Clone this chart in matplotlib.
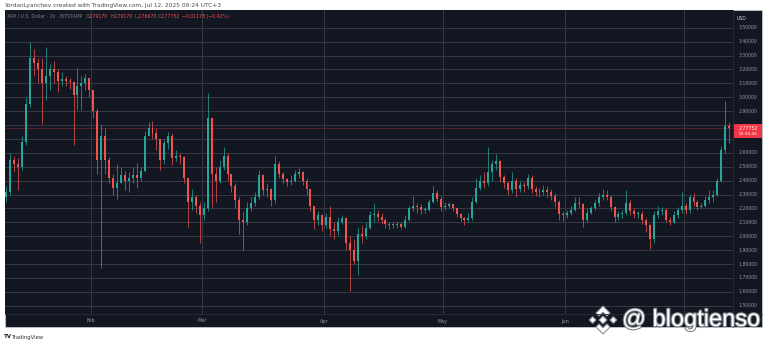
import numpy as np
import pandas as pd
import matplotlib
matplotlib.use("Agg")
import matplotlib.pyplot as plt
import matplotlib.dates as mdates
from matplotlib.patches import Rectangle, Polygon
from matplotlib.transforms import blended_transform_factory
import matplotlib.patheffects as pe

# ---------------- data (daily OHLC, XRP/USD) ----------------
start_date = "2025-01-10"
first_open = 2.28

close_jan = [2.32, 2.55, 2.52, 2.50, 2.68, 2.95, 3.28, 3.25, 3.20, 3.10, 3.15, 3.20, 3.18, 3.12, 3.13, 3.12, 3.11, 3.02, 3.08, 3.10, 3.14, 3.05]
high_jan = [2.36, 2.60, 2.58, 2.56, 2.72, 3.00, 3.40, 3.35, 3.28, 3.28, 3.36, 3.24, 3.26, 3.20, 3.18, 3.15, 3.14, 3.12, 3.21, 3.15, 3.17, 3.12]
low_jan = [2.25, 2.30, 2.46, 2.33, 2.48, 2.66, 2.93, 3.15, 3.10, 2.81, 2.98, 3.05, 3.10, 3.04, 3.08, 3.08, 3.06, 2.66, 2.91, 2.91, 3.05, 3.00]

close_feb = [2.90, 2.55, 2.72, 2.55, 2.42, 2.35, 2.38, 2.44, 2.40, 2.42, 2.44, 2.42, 2.47, 2.72, 2.78, 2.74, 2.70, 2.55, 2.67, 2.72, 2.56, 2.58, 2.57, 2.42, 2.25, 2.28, 2.22, 2.15]
high_feb = [3.05, 2.92, 2.80, 2.78, 2.57, 2.45, 2.52, 2.50, 2.47, 2.46, 2.50, 2.53, 2.50, 2.76, 2.82, 2.83, 2.78, 2.70, 2.70, 2.75, 2.74, 2.62, 2.60, 2.58, 2.42, 2.34, 2.30, 2.25]
low_feb = [2.85, 2.45, 1.77, 2.45, 2.38, 2.30, 2.27, 2.38, 2.33, 2.32, 2.38, 2.35, 2.40, 2.46, 2.72, 2.70, 2.62, 2.48, 2.52, 2.63, 2.51, 2.54, 2.52, 2.38, 2.07, 2.19, 2.17, 1.95]

close_mar = [2.20, 2.85, 2.45, 2.40, 2.50, 2.58, 2.45, 2.36, 2.26, 2.12, 2.10, 2.20, 2.24, 2.28, 2.44, 2.33, 2.34, 2.26, 2.52, 2.45, 2.41, 2.39, 2.40, 2.45, 2.46, 2.40, 2.34, 2.22, 2.12, 2.15, 2.08]
high_mar = [2.25, 3.03, 2.85, 2.50, 2.55, 2.64, 2.60, 2.45, 2.38, 2.28, 2.18, 2.25, 2.28, 2.32, 2.48, 2.45, 2.38, 2.35, 2.58, 2.54, 2.46, 2.42, 2.44, 2.48, 2.49, 2.47, 2.42, 2.34, 2.22, 2.18, 2.16]
low_mar = [2.12, 2.18, 2.21, 2.25, 2.38, 2.48, 2.40, 2.32, 2.20, 2.02, 1.90, 2.08, 2.18, 2.22, 2.27, 2.30, 2.28, 2.22, 2.24, 2.42, 2.38, 2.36, 2.37, 2.39, 2.42, 2.37, 2.30, 2.18, 2.05, 2.08, 2.04]

close_apr = [2.14, 2.05, 2.04, 2.10, 2.13, 1.95, 1.90, 1.82, 2.02, 2.00, 2.06, 2.15, 2.16, 2.14, 2.12, 2.09, 2.08, 2.08, 2.09, 2.07, 2.12, 2.20, 2.22, 2.21, 2.19, 2.19, 2.25, 2.31, 2.27, 2.21]
high_apr = [2.17, 2.22, 2.10, 2.14, 2.15, 2.14, 2.00, 1.98, 2.07, 2.08, 2.10, 2.18, 2.24, 2.19, 2.17, 2.13, 2.10, 2.10, 2.11, 2.10, 2.15, 2.22, 2.29, 2.24, 2.23, 2.21, 2.27, 2.36, 2.33, 2.29]
low_apr = [2.06, 2.00, 1.98, 2.01, 2.09, 1.90, 1.61, 1.80, 1.72, 1.95, 1.98, 2.05, 2.10, 2.11, 2.09, 2.06, 2.05, 2.06, 2.06, 2.05, 2.06, 2.11, 2.18, 2.17, 2.16, 2.17, 2.18, 2.24, 2.25, 2.18]

close_may = [2.22, 2.23, 2.20, 2.16, 2.13, 2.12, 2.13, 2.25, 2.35, 2.40, 2.38, 2.46, 2.52, 2.54, 2.43, 2.38, 2.33, 2.40, 2.34, 2.37, 2.36, 2.42, 2.34, 2.32, 2.32, 2.33, 2.32, 2.29, 2.25, 2.16, 2.15]
high_may = [2.25, 2.25, 2.23, 2.21, 2.17, 2.14, 2.17, 2.28, 2.42, 2.44, 2.46, 2.64, 2.55, 2.59, 2.55, 2.44, 2.40, 2.46, 2.42, 2.40, 2.39, 2.45, 2.44, 2.36, 2.35, 2.37, 2.36, 2.34, 2.31, 2.26, 2.18]
low_may = [2.19, 2.20, 2.18, 2.14, 2.11, 2.08, 2.10, 2.12, 2.24, 2.33, 2.35, 2.36, 2.40, 2.48, 2.39, 2.35, 2.30, 2.31, 2.28, 2.32, 2.32, 2.34, 2.31, 2.29, 2.28, 2.30, 2.28, 2.26, 2.21, 2.12, 2.11]

close_jun = [2.17, 2.19, 2.24, 2.23, 2.12, 2.17, 2.20, 2.24, 2.28, 2.30, 2.28, 2.21, 2.14, 2.16, 2.17, 2.24, 2.18, 2.16, 2.16, 2.12, 2.08, 1.98, 2.15, 2.18, 2.19, 2.12, 2.10, 2.15, 2.19, 2.22]
high_jun = [2.19, 2.22, 2.28, 2.28, 2.24, 2.20, 2.22, 2.26, 2.31, 2.34, 2.33, 2.30, 2.22, 2.18, 2.19, 2.33, 2.26, 2.20, 2.18, 2.18, 2.13, 2.09, 2.18, 2.22, 2.21, 2.20, 2.14, 2.18, 2.21, 2.32]
low_jun = [2.13, 2.15, 2.18, 2.20, 2.07, 2.10, 2.16, 2.19, 2.22, 2.26, 2.26, 2.18, 2.10, 2.12, 2.13, 2.15, 2.15, 2.13, 2.13, 2.09, 2.03, 1.91, 1.95, 2.13, 2.15, 2.10, 2.08, 2.09, 2.13, 2.17]

close_jul = [2.19, 2.28, 2.25, 2.21, 2.22, 2.26, 2.28, 2.30, 2.40, 2.62, 2.79, 2.77752]
high_jul = [2.24, 2.30, 2.31, 2.26, 2.24, 2.29, 2.33, 2.33, 2.42, 2.65, 2.97, 2.82]
low_jul = [2.16, 2.17, 2.22, 2.19, 2.20, 2.21, 2.24, 2.25, 2.29, 2.39, 2.60, 2.67]

price_ticks = [1.5, 1.6, 1.7, 1.8, 1.9, 2.0, 2.1, 2.2, 2.3, 2.4, 2.5, 2.6, 2.7, 2.8, 2.9, 3.0, 3.1, 3.2, 3.3, 3.4, 3.5]
hidden_tick_labels = [2.7, 2.8]          # covered by the last-price tag
month_labels = ["Feb", "Mar", "Apr", "May", "Jun"]
month_dates = ["2025-02-01", "2025-03-01", "2025-04-01", "2025-05-01", "2025-06-01", "2025-07-01"]
last_price = 2.77752
countdown = "00:35:46"
legend_values = [("O", "2.79170"), ("H", "2.79170"), ("L", "2.76670"), ("C", "2.77752")]
legend_change = "\u22120.01178 (\u22120.42%)"

closes = np.array(close_jan + close_feb + close_mar + close_apr + close_may + close_jun + close_jul)
highs = np.array(high_jan + high_feb + high_mar + high_apr + high_may + high_jun + high_jul)
lows = np.array(low_jan + low_feb + low_mar + low_apr + low_may + low_jun + low_jul)
opens = np.concatenate([[first_open], closes[:-1]])
highs = np.maximum(highs, np.maximum(opens, closes))
lows = np.minimum(lows, np.minimum(opens, closes))
dates = pd.date_range(start_date, periods=len(closes), freq="D")
x = mdates.date2num(dates.to_pydatetime()) + 0.5

# ---------------- styling ----------------
W, H = 765, 342
BG = "#131722"
GRID = "#363a45"
UP = "#26a69a"
DOWN = "#ef5350"
AXTXT = "#9598a1"

fig = plt.figure(figsize=(W / 100, H / 100), dpi=100, facecolor="white")

def px_rect(x0, y0, x1, y1):
    return [x0 / W, 1 - y1 / H, (x1 - x0) / W, (y1 - y0) / H]

# background panel
bg = fig.add_axes([0, 0, 1, 1], zorder=0)
bg.set_xlim(0, W); bg.set_ylim(H, 0); bg.axis("off")
bg.add_patch(Rectangle((5, 10), 757, 317, facecolor=BG, edgecolor="#d0d3da", lw=0.5))

# main chart axes (pixel box: x 5..733, y 10..314)
ax = fig.add_axes(px_rect(5, 10, 733, 314), zorder=1)
ax.set_facecolor(BG)
x_left = mdates.date2num(pd.Timestamp("2025-01-10").to_pydatetime()) + 0.15
x_right = mdates.date2num(pd.Timestamp("2025-07-13").to_pydatetime()) + 0.5
ax.set_xlim(x_left, x_right)
ax.set_ylim(1.441, 3.628)
for s in ax.spines.values():
    s.set_visible(False)
ax.set_xticks([]); ax.set_yticks([])

for p in price_ticks:
    ax.axhline(p, color=GRID, lw=0.7, zorder=0)
mnums = [mdates.date2num(pd.Timestamp(d).to_pydatetime()) for d in month_dates]
for m in mnums:
    ax.axvline(m, color=GRID, lw=0.7, zorder=0)

# current price line
ax.axhline(last_price, color="#4d232b", lw=0.8, zorder=1)

colors = np.where(closes >= opens, UP, DOWN)
ax.vlines(x, lows, highs, colors=colors, lw=0.5, zorder=2)
body_bottom = np.minimum(opens, closes)
body_h = np.maximum(np.abs(closes - opens), 0.005)
ax.bar(x, body_h, bottom=body_bottom, width=0.5, color=colors, linewidth=0, zorder=3)

# overlay in pixel coordinates
ov = fig.add_axes([0, 0, 1, 1], zorder=5)
ov.set_xlim(0, W); ov.set_ylim(H, 0); ov.axis("off")
ov.patch.set_alpha(0)

# separators
ov.plot([733, 733], [10, 327], color="#2a2e39", lw=0.6)
ov.plot([5, 762], [314, 314], color="#2a2e39", lw=0.6)

# price axis labels
ty = blended_transform_factory(ov.transData, ax.transData)
for p in price_ticks:
    if any(abs(p - h) < 1e-9 for h in hidden_tick_labels):
        continue
    ov.text(748, p, f"{p:.5f}", transform=ty, ha="center", va="center",
            fontsize=3.3, color=AXTXT)
ov.text(742, 18.5, "USD", ha="center", va="center", fontsize=3.3, color="#d1d4dc")

# last price tag
ov.add_patch(Rectangle((734, 124), 28, 14, facecolor="#f23645", edgecolor="none"))
ov.text(748, 128.3, f"{last_price:.5f}", ha="center", va="center", fontsize=3.3, color="white")
ov.text(748, 134.0, countdown, ha="center", va="center", fontsize=3.1, color="white")

# month labels
tx = blended_transform_factory(ax.transData, ov.transData)
for m, lab in zip(mnums, month_labels):
    ov.text(m, 321, lab, transform=tx, ha="center", va="center", fontsize=3.5, color=AXTXT)

# legend line
ov.text(7, 16.5, "XRP / U.S. Dollar \u00b7 2h \u00b7 BITSTAMP", ha="left", va="center",
        fontsize=3.3, color="#787b86")
lx = [86, 111, 135, 158]
for (k, v), xx in zip(legend_values, lx):
    ov.text(xx, 16.5, k, ha="left", va="center", fontsize=3.3, color="#787b86")
    ov.text(xx + 2.6, 16.5, v, ha="left", va="center", fontsize=3.3, color=DOWN)
ov.text(182, 16.5, legend_change, ha="left", va="center", fontsize=3.3, color=DOWN)

# top credit and bottom logo
ov.text(4, 5, "YordanLyanchev created with TradingView.com, Jul 12, 2025 09:24 UTC+3",
        ha="left", va="center", fontsize=4.2, color="#4a4a4a")
ov.text(4, 337, "TV", ha="left", va="center", fontsize=4, color="#1e1e1e", fontweight="bold")
ov.text(12, 337, "TradingView", ha="left", va="center", fontsize=3.8, color="#333333")

# watermark: logo + handle
cx, cy, s = 603, 320, 14
def shape(pts):
    return [(cx + u * s, cy - v * s) for u, v in pts]
shapes = [
    [(0, 1), (0.5, 0.5), (0.28, 0.28), (0, 0.56), (-0.28, 0.28), (-0.5, 0.5)],
    [(0, -1), (0.5, -0.5), (0.28, -0.28), (0, -0.56), (-0.28, -0.28), (-0.5, -0.5)],
    [(-0.28, 0), (0, 0.28), (0.28, 0), (0, -0.28)],
    [(0.5, 0), (0.74, 0.24), (0.98, 0), (0.74, -0.24)],
    [(-0.5, 0), (-0.74, 0.24), (-0.98, 0), (-0.74, -0.24)],
]
for sh in shapes:
    ov.add_patch(Polygon(shape(sh), closed=True, facecolor="white", edgecolor="#8a8f98", lw=0.8))
ov.text(622, 326, "@ blogtienso", ha="left", va="baseline", fontsize=17,
        family="Liberation Sans", color="white",
        path_effects=[pe.withStroke(linewidth=1.6, foreground="#7d828a")])

fig.savefig("out.png", dpi=100, facecolor="white")
